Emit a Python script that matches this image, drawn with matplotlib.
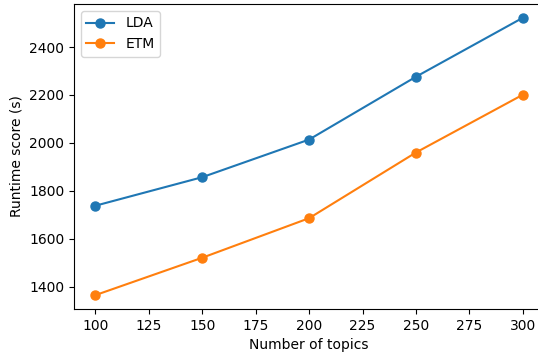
import matplotlib

matplotlib.use("Agg")
import matplotlib.pyplot as plt

# ── Data ─────────────────────────────────────────────────────────────
topics = [100, 150, 200, 250, 300]
lda_runtime = [1738, 1857, 2014, 2276, 2522]
etm_runtime = [1365, 1521, 1686, 1960, 2201]

plt.rcParams["font.size"] = 10

fig = plt.figure(figsize=(5.38, 3.56), dpi=100)
# axes run slightly past the right edge (the reference is cropped there)
ax = fig.add_axes([0.1375, 0.132, 0.874, 0.857])

ax.plot(topics, lda_runtime, marker="o", markersize=6.5, color="#1f77b4", label="LDA")
ax.plot(topics, etm_runtime, marker="o", markersize=6.5, color="#ff7f0e", label="ETM")

ax.set_xlabel("Number of topics")
ax.set_ylabel("Runtime score (s)")
ax.set_xticks([100, 125, 150, 175, 200, 225, 250, 275, 300])
ax.set_yticks([1400, 1600, 1800, 2000, 2200, 2400])
ax.legend(loc="upper left")

fig.savefig("out.png", dpi=100)
plt.close(fig)
